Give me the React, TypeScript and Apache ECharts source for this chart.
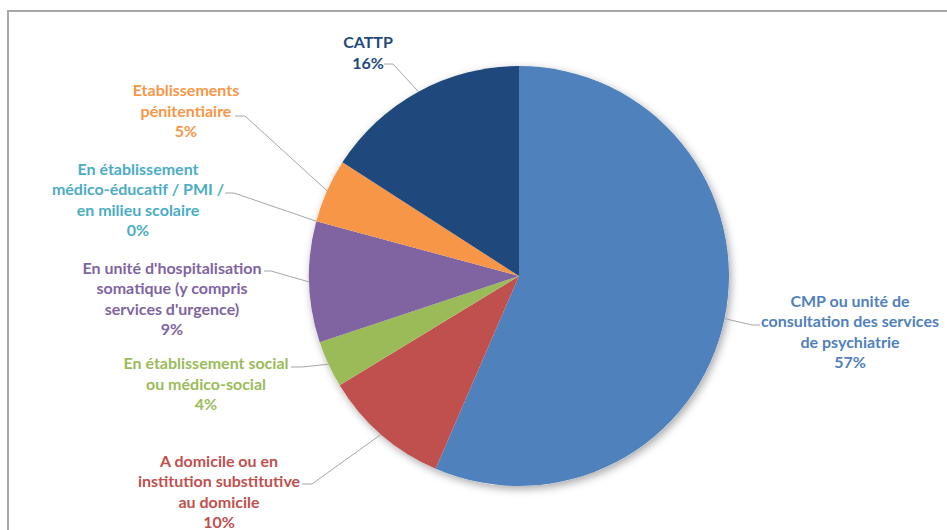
import React, { useEffect, useRef } from "react";
import * as echarts from "echarts";

const categories = [
  "CMP ou unité de\nconsultation des services\nde psychiatrie",
  "A domicile ou en\ninstitution substitutive\nau domicile",
  "En établissement social\nou médico-social",
  "En unité d'hospitalisation\nsomatique (y compris\nservices d'urgence)",
  "En établissement\nmédico-éducatif / PMI /\nen milieu scolaire",
  "Etablissements\npénitentiaire",
  "CATTP",
];
const values = [56.5, 9.8, 3.6, 9.3, 0, 4.9, 15.9];
const colors = ["#4f81bd", "#c0504d", "#9bbb59", "#8064a2", "#4bacc6", "#f79646", "#1f497d"];

// label placement (text block centre, line bend, line end)
const labelPos = [
  { x: 850, y: 331, bend: [752, 325], end: [760, 325] },
  { x: 219, y: 491, bend: [312, 484], end: [302, 484] },
  { x: 206, y: 383, bend: [302, 367], end: [291, 367] },
  { x: 172, y: 298, bend: [271, 271], end: [264, 271] },
  { x: 138, y: 199, bend: [234, 193], end: [225, 193] },
  { x: 186, y: 110, bend: [245, 116], end: [235, 116] },
  { x: 368, y: 52, bend: [393, 64], end: [384, 64] },
];

export default function App() {
  const ref = useRef<HTMLDivElement>(null);
  useEffect(() => {
    if (!ref.current) return;
    const chart = echarts.init(ref.current, undefined, { renderer: "svg" });
    const total = values.reduce((a, b) => a + b, 0);
    chart.setOption({
      animation: false,
      backgroundColor: "#ffffff",
      graphic: [
        {
          type: "rect",
          shape: { x: 8, y: 11, width: 1000, height: 600 },
          style: { fill: "none", stroke: "#a8a8a8", lineWidth: 2 },
          z: -10,
        },
      ],
      series: [
        {
          type: "pie",
          silent: true,
          center: [519, 276],
          radius: 210,
          z: 1,
          label: { show: false },
          labelLine: { show: false },
          itemStyle: {
            color: "#ffffff",
            shadowBlur: 8,
            shadowOffsetX: 2,
            shadowOffsetY: 3,
            shadowColor: "rgba(0,0,0,0.35)",
          },
          data: [{ value: total, name: "" }],
        },
        {
          type: "pie",
          center: [519, 276],
          radius: 210,
          z: 2,
          startAngle: 90,
          clockwise: true,
          avoidLabelOverlap: false,
          minShowLabelAngle: 0,
          itemStyle: { borderWidth: 0 },
          label: {
            show: true,
            position: "outside",
            fontFamily: "Lato",
            fontWeight: "bold",
            fontSize: 16,
            lineHeight: 20.5,
            align: "center",
            formatter: (p: any) => `${p.name}\n${Math.round(p.value)}%`,
          },
          labelLine: {
            show: true,
            length: 10,
            length2: 10,
            lineStyle: { color: "#a6a6a6", width: 1 },
          },
          labelLayout: (params: any) => {
            const pos = labelPos[params.dataIndex];
            const pts = params.labelLinePoints;
            const start = pts && pts[0] ? pts[0] : pos.bend;
            return {
              x: pos.x,
              y: pos.y,
              align: "center",
              verticalAlign: "middle",
              labelLinePoints: [start, pos.bend, pos.end],
            };
          },
          data: categories.map((name, i) => ({
            name,
            value: values[i],
            itemStyle: { color: colors[i] },
            label: { color: colors[i] },
          })),
        },
      ],
    });
    return () => chart.dispose();
  }, []);
  return (
    <div
      ref={ref}
      style={{ position: "fixed", left: 0, top: 0, width: 947, height: 530, background: "#fff" }}
    />
  );
}
